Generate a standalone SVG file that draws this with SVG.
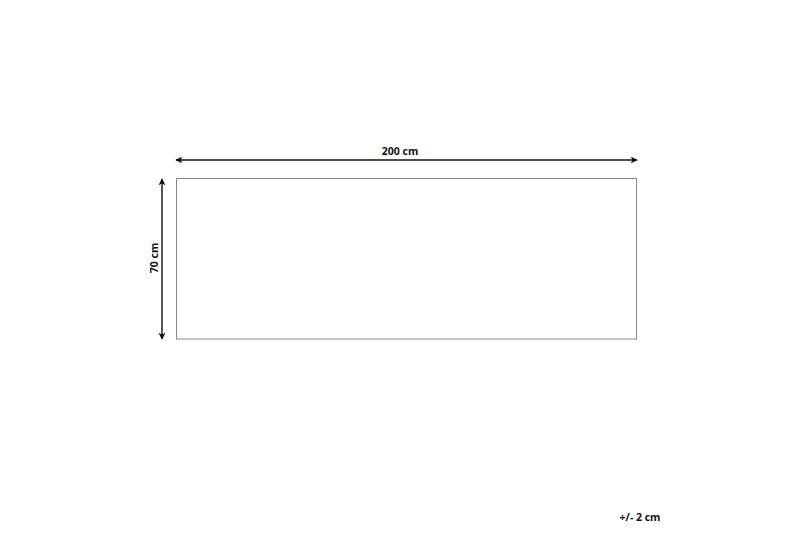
<svg xmlns="http://www.w3.org/2000/svg" width="800" height="533" viewBox="0 0 800 533">
<style>
.t{font-family:"Open Sans","Liberation Sans",sans-serif;font-weight:bold;font-size:10.5px;fill:#111;}
.dim{stroke:#111;stroke-width:1.4;fill:none;}
</style>
<defs>
<marker id="ah" viewBox="0 0 10 10" refX="9" refY="5" markerWidth="7" markerHeight="7" orient="auto-start-reverse" markerUnits="userSpaceOnUse">
<path d="M0,0 L10,5 L0,10 L2.5,5 Z" fill="#111"/>
</marker>
</defs>
<rect width="800" height="533" fill="#fff"/>
<g id="rug">
<rect x="176.5" y="178.5" width="460" height="160.5" fill="#fff" stroke="#888" stroke-width="1"/>
</g>
<g id="connectors">
<line class="dim" x1="176" y1="160" x2="637" y2="160" marker-start="url(#ah)" marker-end="url(#ah)"/>
<line class="dim" x1="162" y1="179" x2="162" y2="339" marker-start="url(#ah)" marker-end="url(#ah)"/>
</g>
<g id="labels">
<text class="t" x="400" y="155" text-anchor="middle">200 cm</text>
<text class="t" x="0" y="0" text-anchor="middle" transform="translate(157.5,258) rotate(-90)">70 cm</text>
<text class="t" x="640" y="521" text-anchor="middle">+/- 2 cm</text>
</g>
</svg>
